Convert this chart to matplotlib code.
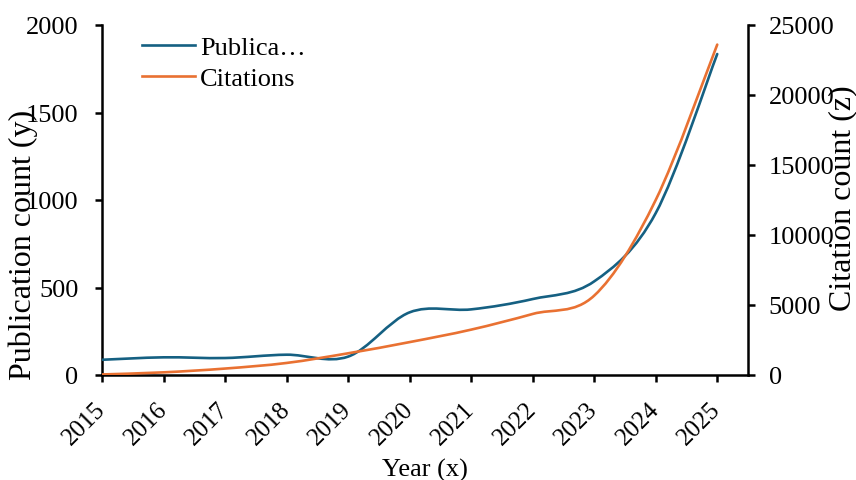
import matplotlib
matplotlib.use("Agg")
import matplotlib.pyplot as plt
import matplotlib.transforms as mtransforms
from matplotlib.path import Path
from matplotlib.patches import PathPatch
from matplotlib.lines import Line2D
import numpy as np

years = [2015, 2016, 2017, 2018, 2019, 2020, 2021, 2022, 2023, 2024, 2025]
publications = [87, 101, 97, 116, 105, 358, 375, 434, 535, 925, 1834]
citations = [40, 190, 460, 860, 1550, 2350, 3240, 4360, 5670, 12500, 23600]
year_labels = [str(y) for y in years]

BLUE = "#156082"
ORANGE = "#E97132"

plt.rcParams["font.family"] = ["Liberation Serif", "DejaVu Serif"]
plt.rcParams["font.size"] = 19


def smooth_path(xs, ys):
    """Bezier path through the points, with control points from neighbours."""
    pts = np.column_stack([xs, ys]).astype(float)
    n = len(pts)
    verts = [pts[0]]
    codes = [Path.MOVETO]
    for i in range(n - 1):
        p0 = pts[i - 1] if i > 0 else pts[i]
        p1 = pts[i]
        p2 = pts[i + 1]
        p3 = pts[i + 2] if i + 2 < n else pts[i + 1]
        c1 = p1 + (p2 - p0) / 6.0
        c2 = p2 - (p3 - p1) / 6.0
        verts += [c1, c2, p2]
        codes += [Path.CURVE4] * 3
    return Path(verts, codes)


fig = plt.figure(figsize=(8.56, 4.81), dpi=100)
ax = fig.add_axes([102 / 856, 1 - 376 / 481, (748 - 102) / 856, (376 - 26) / 481])
ax2 = ax.twinx()

ax.set_xlim(2015, 2025.5)
ax.set_ylim(0, 2000)
ax2.set_ylim(0, 25000)

ax.add_patch(PathPatch(smooth_path(years, publications), facecolor="none",
                       edgecolor=BLUE, lw=1.9, capstyle="round", zorder=3))
ax2.add_patch(PathPatch(smooth_path(years, citations), facecolor="none",
                        edgecolor=ORANGE, lw=1.9, capstyle="round", zorder=3))

ax.set_xticks(years)
ax.set_xticklabels(year_labels, rotation=45, ha="right", va="center",
                   rotation_mode="anchor", fontsize=18)
shift = mtransforms.ScaledTranslation(-0.02, 0, fig.dpi_scale_trans)
for lbl in ax.get_xticklabels():
    lbl.set_transform(lbl.get_transform() + shift)
ax.set_yticks([0, 500, 1000, 1500, 2000])
ax2.set_yticks([0, 5000, 10000, 15000, 20000, 25000])

for a in (ax, ax2):
    a.spines["top"].set_visible(False)
    for s in a.spines.values():
        s.set_linewidth(1.8)
    a.tick_params(width=1.8, length=5, direction="out")
ax.tick_params(axis="y", pad=12)
ax.tick_params(axis="x", pad=17)
ax2.tick_params(axis="y", pad=10)
ax2.spines["left"].set_visible(False)
ax2.spines["bottom"].set_visible(False)
ax.spines["right"].set_visible(False)

fig.text(23 / 856, 1 - 245 / 481, "Publication count (y)", rotation=90,
         ha="center", va="center", fontsize=23)
fig.text(843 / 856, 1 - 198 / 481, "Citation count (z)", rotation=90,
         ha="center", va="center", fontsize=23)
fig.text(425 / 856, 1 - 470 / 481, "Year (x)", ha="center", va="center", fontsize=19)

handles = [Line2D([], [], color=BLUE, lw=1.9), Line2D([], [], color=ORANGE, lw=1.9)]
ax.legend(handles, ["Publica\u2026", "Citations"], loc="upper left",
          bbox_to_anchor=(0.037, 1.014), frameon=False, fontsize=19,
          handlelength=2.0, handletextpad=0.2, labelspacing=0.26, borderaxespad=0.2)

fig.savefig("out.png", dpi=100)
